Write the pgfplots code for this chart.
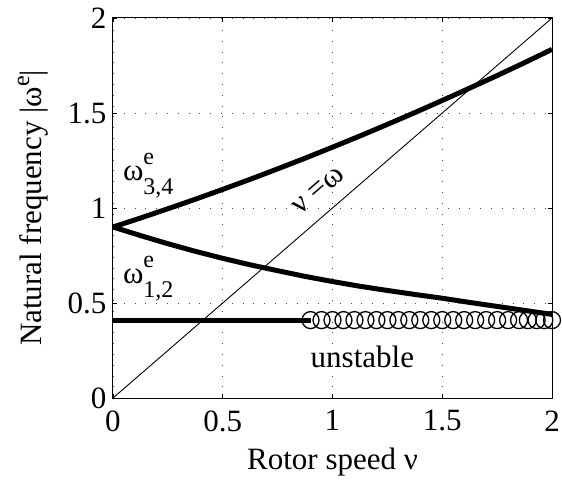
\documentclass[border=0pt]{standalone}
\usepackage{fontspec}
\setmainfont{Liberation Serif}
\usepackage{pgfplots}
\pgfplotsset{compat=1.18}

\newcommand{\fs}{\fontsize{31bp}{34bp}\selectfont}
\newcommand{\sfs}{\fontsize{24bp}{26bp}\selectfont}
% omega with stacked super/subscript
\newcommand{\om}[1]{ω\rlap{\raisebox{16bp}{\sfs e}}\raisebox{-14bp}{\sfs #1}}

\begin{document}
\begin{tikzpicture}
\begin{axis}[
  width=439bp, height=380bp, scale only axis,
  xmin=0, xmax=2, ymin=0, ymax=2,
  xtick={0,0.5,1,1.5,2}, ytick={0,0.5,1,1.5,2},
  tick align=inside, major tick length=4bp,
  tick style={black, line width=0.8bp},
  axis line style={line width=1bp},
  grid=major,
  grid style={black!70, line width=0.8bp, dash pattern=on 0.8bp off 10bp},
  /pgf/number format/assume math mode=true,
  ticklabel style={font=\fs},
  xticklabel style={yshift=-9bp},
  yticklabel style={xshift=-3bp},
  label style={font=\fs},
  xlabel={Rotor speed ν},
  ylabel={Natural frequency |ω\raisebox{12bp}{\sfs e}|},
  xlabel style={at={(axis description cs:0.5,-0.189)}, anchor=base},
  ylabel style={at={(axis description cs:-0.164,0.5)}, anchor=base},
  clip=false,
]
% nu = omega
\addplot[black, line width=0.9bp] coordinates {(0,0) (2,2)};
% omega 3,4
\addplot[black, line width=5bp] coordinates {
  (0,0.9) (0.125,0.947) (0.25,0.996) (0.375,1.046) (0.5,1.098)
  (0.625,1.151) (0.75,1.206) (0.875,1.262) (1,1.32) (1.125,1.379)
  (1.25,1.44) (1.375,1.502) (1.5,1.566) (1.625,1.631) (1.75,1.697)
  (1.875,1.765) (2,1.835)};
% omega 1,2
\addplot[black, line width=5bp] coordinates {
  (0,0.9) (0.125,0.855) (0.25,0.812) (0.375,0.772) (0.5,0.735)
  (0.625,0.701) (0.75,0.67) (0.875,0.64) (1,0.613) (1.125,0.588)
  (1.25,0.566) (1.375,0.545) (1.5,0.525) (1.625,0.503) (1.75,0.482)
  (1.875,0.461) (2,0.44)};
% stable part
\addplot[black, line width=5bp] coordinates {(0,0.41) (0.9,0.41)};
% unstable part
\addplot[black, only marks, mark=o, mark size=8.5bp, mark options={line width=1.3bp}]
  coordinates {
  (0.90,0.41) (0.95,0.41) (1.00,0.41) (1.05,0.41) (1.10,0.41) (1.15,0.41)
  (1.20,0.41) (1.25,0.41) (1.30,0.41) (1.35,0.41) (1.40,0.41) (1.45,0.41)
  (1.50,0.41) (1.55,0.41) (1.60,0.41) (1.65,0.41) (1.70,0.41) (1.75,0.41)
  (1.80,0.41) (1.85,0.41) (1.89,0.41) (1.93,0.41) (1.965,0.41) (2.00,0.41)};

\node[anchor=base west, inner sep=0, font=\fs] at (axis cs:0.045,1.147) {\om{3,4}};
\node[anchor=base west, inner sep=0, font=\fs] at (axis cs:0.045,0.605) {\om{1,2}};
\node[anchor=base west, inner sep=0, font=\fs] at (axis cs:0.9,0.158) {unstable};
\node[rotate=41, inner sep=0, font=\fs] at (axis cs:0.935,1.09) {ν =ω};
\end{axis}
\pgfresetboundingbox
\path ([shift={(-113bp,-84bp)}]current axis.south west)
  rectangle ([shift={(10bp,18bp)}]current axis.north east);
\end{tikzpicture}
\end{document}
